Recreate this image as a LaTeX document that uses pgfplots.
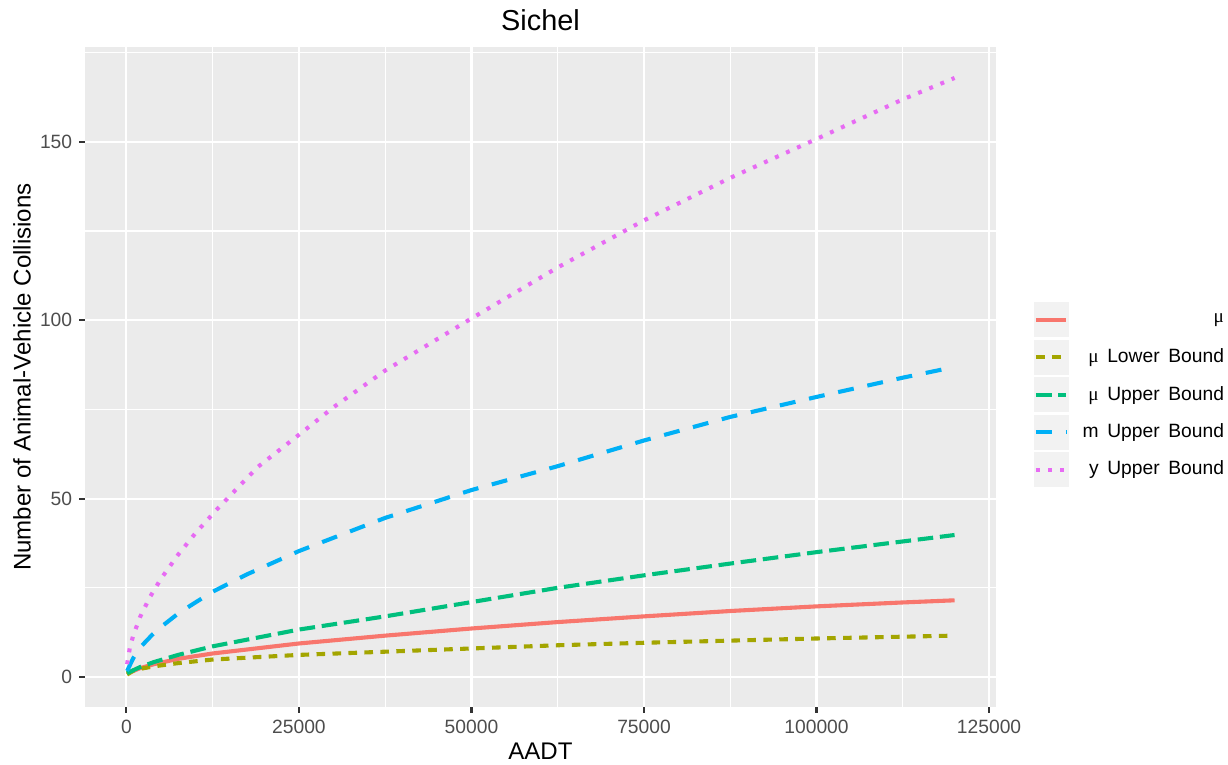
\documentclass[border=0pt]{standalone}
\usepackage{fontspec}
\setmainfont{Liberation Sans}
\newfontfamily\mufont{Liberation Serif}
\usepackage{pgfplots}
\pgfplotsset{compat=1.18}
\definecolor{cRed}{HTML}{F8766D}
\definecolor{cOlive}{HTML}{A3A500}
\definecolor{cGreen}{HTML}{00BF7D}
\definecolor{cBlue}{HTML}{00B0F6}
\definecolor{cPink}{HTML}{E76BF3}
\definecolor{panelgrey}{HTML}{EBEBEB}
\definecolor{keygrey}{HTML}{F2F2F2}
\definecolor{tickgrey}{HTML}{333333}
\definecolor{labelgrey}{HTML}{4D4D4D}
\begin{document}
\begin{tikzpicture}
\useasboundingbox (-41.53pt,-28.34pt) rectangle (558.47pt,345.44pt);
\begin{axis}[
  scale only axis, width=445.1pt, height=322.5pt,
  xmin=-6000, xmax=126000, ymin=-8.4, ymax=176.6,
  axis background/.style={fill=panelgrey},
  axis x line*=bottom, axis y line*=left,
  axis line style={draw=none},
  xtick={0,25000,50000,75000,100000,125000},
  xticklabels={0,25000,50000,75000,100000,125000},
  ytick={0,50,100,150},
  yticklabels={0,50,100,150},
  minor xtick={12500,37500,62500,87500,112500},
  minor ytick={25,75,125,175},
  grid=both,
  major grid style={white, line width=1.07pt},
  minor grid style={white, line width=0.53pt},
  tick align=outside,
  major tick length=2.75pt, minor tick length=0pt,
  every major tick/.append style={draw=tickgrey, line width=1.07pt},
  scaled x ticks=false, scaled y ticks=false,
  tick label style={font=\fontsize{9.4}{11}\selectfont, text=labelgrey},
  title={Sichel},
  title style={at={(axis description cs:0.5,1.0056)}, anchor=base, font=\fontsize{14.1}{16}\selectfont, inner sep=0pt},
  xlabel={AADT},
  xlabel style={at={(axis description cs:0.5,-0.0803)}, anchor=base, font=\fontsize{11.75}{14}\selectfont, inner sep=0pt},
  ylabel={Number of Animal-Vehicle Collisions},
  ylabel style={at={(axis description cs:-0.0598,0.5)}, anchor=base, font=\fontsize{11.75}{14}\selectfont, inner sep=0pt},
  legend style={at={(axis description cs:1.2503,0.6132)}, anchor=north east, draw=none, fill=none, inner sep=0pt, outer sep=0pt, row sep=1.2pt, column sep=6.8pt, nodes={inner sep=0pt, font=\fontsize{9.4}{11}\selectfont}},
  legend cell align=right,
  legend image code/.code={\path[fill=keygrey, draw=none] (0pt,-8.55pt) rectangle (17.1pt,8.55pt); \draw[#1] (1.1pt,0pt) -- (16pt,0pt);},
  every axis plot/.append style={line width=2pt, line cap=butt, line join=round},
]
\addplot[cRed] coordinates {(100,0.9)(1000,1.7)(2000,2.5)(4000,3.6)(7500,5.1)(12500,6.6)(25000,9.4)(37500,11.6)(50000,13.6)(62500,15.4)(75000,17.0)(87500,18.5)(100000,19.8)(112500,20.9)(120000,21.5)};
\addlegendentry{{\mufont μ}}
\addplot[cOlive, dash pattern=on 4.2pt off 3.6pt] coordinates {(100,0.7)(1000,1.8)(2000,2.3)(4000,3.0)(7500,3.9)(12500,4.9)(25000,6.2)(37500,7.1)(50000,8.0)(62500,8.9)(75000,9.6)(87500,10.2)(100000,10.8)(112500,11.3)(120000,11.6)};
\addlegendentry{{\mufont μ}\hspace{0.45em}Lower\hspace{0.45em}Bound}
\addplot[cGreen, dash pattern=on 7.6pt off 3.3pt] coordinates {(100,1.1)(1000,1.9)(2000,2.8)(4000,4.2)(7500,6.2)(12500,8.6)(25000,13.3)(37500,17.0)(50000,21.0)(62500,25.0)(75000,28.5)(87500,31.8)(100000,35.0)(112500,38.0)(120000,39.8)};
\addlegendentry{{\mufont μ}\hspace{0.45em}Upper\hspace{0.45em}Bound}
\addplot[cBlue, dash pattern=on 7.8pt off 6.8pt] coordinates {(100,1.7)(1000,5.3)(2000,8.3)(3720,11.8)(5000,14.0)(7500,17.8)(10000,20.9)(12500,23.9)(17500,28.8)(25000,35.3)(37500,44.6)(50000,52.4)(62500,59.1)(75000,66.3)(87500,72.9)(100000,78.5)(112500,83.9)(120000,86.9)};
\addlegendentry{m\hspace{0.45em}Upper\hspace{0.45em}Bound}
\addplot[cPink, dash pattern=on 1.9pt off 4.0pt] coordinates {(100,3.6)(500,8.2)(1000,11.7)(2000,16.9)(3375,22.3)(5000,27.5)(7500,34.3)(10000,40.3)(13120,47.0)(19050,58.9)(25000,67.9)(30000,75.6)(37500,85.9)(50000,100.5)(62500,114.8)(75000,128.0)(87500,139.9)(100000,150.8)(112500,161.9)(120000,167.9)};
\addlegendentry{y\hspace{0.45em}Upper\hspace{0.45em}Bound}
\end{axis}
\end{tikzpicture}
\end{document}
